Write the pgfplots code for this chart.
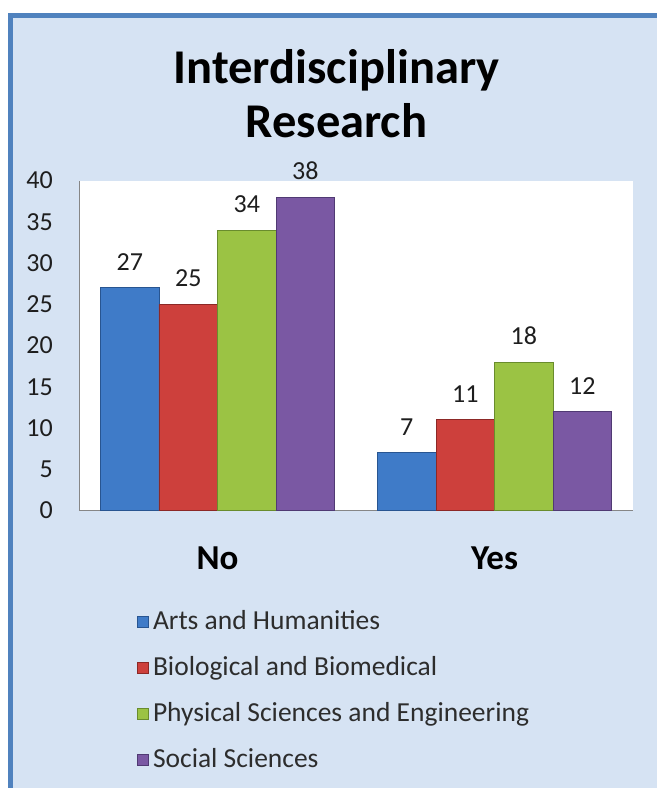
\documentclass[border=0pt]{standalone}
\usepackage{pgfplots}
\pgfplotsset{compat=1.18}
\usepackage{fontspec}
\setmainfont{Carlito}
\definecolor{bg}{RGB}{214,227,243}
\definecolor{brd}{RGB}{80,130,190}
\definecolor{axisgray}{RGB}{134,134,134}
\definecolor{txt}{RGB}{30,30,30}
\definecolor{legtxt}{RGB}{45,45,45}
\definecolor{cblue}{RGB}{63,123,200}
\definecolor{cblued}{RGB}{40,85,145}
\definecolor{cred}{RGB}{205,64,60}
\definecolor{credd}{RGB}{140,40,38}
\definecolor{cgreen}{RGB}{155,195,68}
\definecolor{cgreend}{RGB}{105,140,45}
\definecolor{cpurple}{RGB}{122,88,163}
\definecolor{cpurpled}{RGB}{80,58,115}
\begin{document}
\begin{tikzpicture}[x=1pt,y=1pt]
\useasboundingbox (0,0) rectangle (657,788);
\fill[white] (0,0) rectangle (657,788);
\fill[bg] (10,0) rectangle (657,772);
\draw[brd, line width=5pt] (10,0) -- (10,772) -- (657,772);
\node[font=\bfseries\fontsize{48.5}{56}\selectfont, anchor=base, text=black] at (336.5,704) {Interdisciplinary};
\node[font=\bfseries\fontsize{48.5}{56}\selectfont, anchor=base, text=black] at (336.5,650) {Research};
\begin{axis}[
  at={(79pt,277.5pt)}, anchor=south west,
  scale only axis, width=554pt, height=330pt,
  xmin=-0.5, xmax=1.5, ymin=0, ymax=40,
  ybar=0pt, bar width=58.5pt,
  clip=false,
  axis background/.style={fill=white},
  axis x line*=bottom, axis y line*=left,
  axis line style={draw=axisgray, line width=0.8pt, -},
  major tick length=0pt,
  xtick={0,1}, xticklabels={No,Yes},
  ytick={0,5,...,40},
  /pgf/number format/assume math mode=true,
  yticklabel style={font=\fontsize{26}{30}\selectfont, text=txt, inner sep=0pt, xshift=-26pt},
  xticklabel style={font=\bfseries\fontsize{35}{42}\selectfont, text=black, inner sep=0pt, anchor=north, yshift=-36.5pt},
  nodes near coords,
  nodes near coords style={font=\fontsize{26}{30}\selectfont, text=txt, inner sep=0pt, anchor=south, yshift=17pt},
  legend style={at={(0.1047,-0.297)}, anchor=north west, draw=none, fill=none,
    font=\fontsize{27.5}{33}\selectfont, text=legtxt, row sep=19pt,
    inner xsep=0pt, inner ysep=0pt,
    nodes={inner ysep=2pt, inner xsep=4pt, text height=19pt, text depth=4pt},
    cells={anchor=west}},
  legend image code/.code={\fill[#1] (0pt,-5.5pt) rectangle (11pt,5.5pt);},
]
\addplot[draw=cblued, line width=0.8pt, fill=cblue] coordinates {(0,27) (1,7)};
\addplot[draw=credd, line width=0.8pt, fill=cred] coordinates {(0,25) (1,11)};
\addplot[draw=cgreend, line width=0.8pt, fill=cgreen] coordinates {(0,34) (1,18)};
\addplot[draw=cpurpled, line width=0.8pt, fill=cpurple] coordinates {(0,38) (1,12)};
\legend{Arts and Humanities, Biological and Biomedical, Physical Sciences and Engineering, Social Sciences}
\end{axis}
\end{tikzpicture}
\end{document}
